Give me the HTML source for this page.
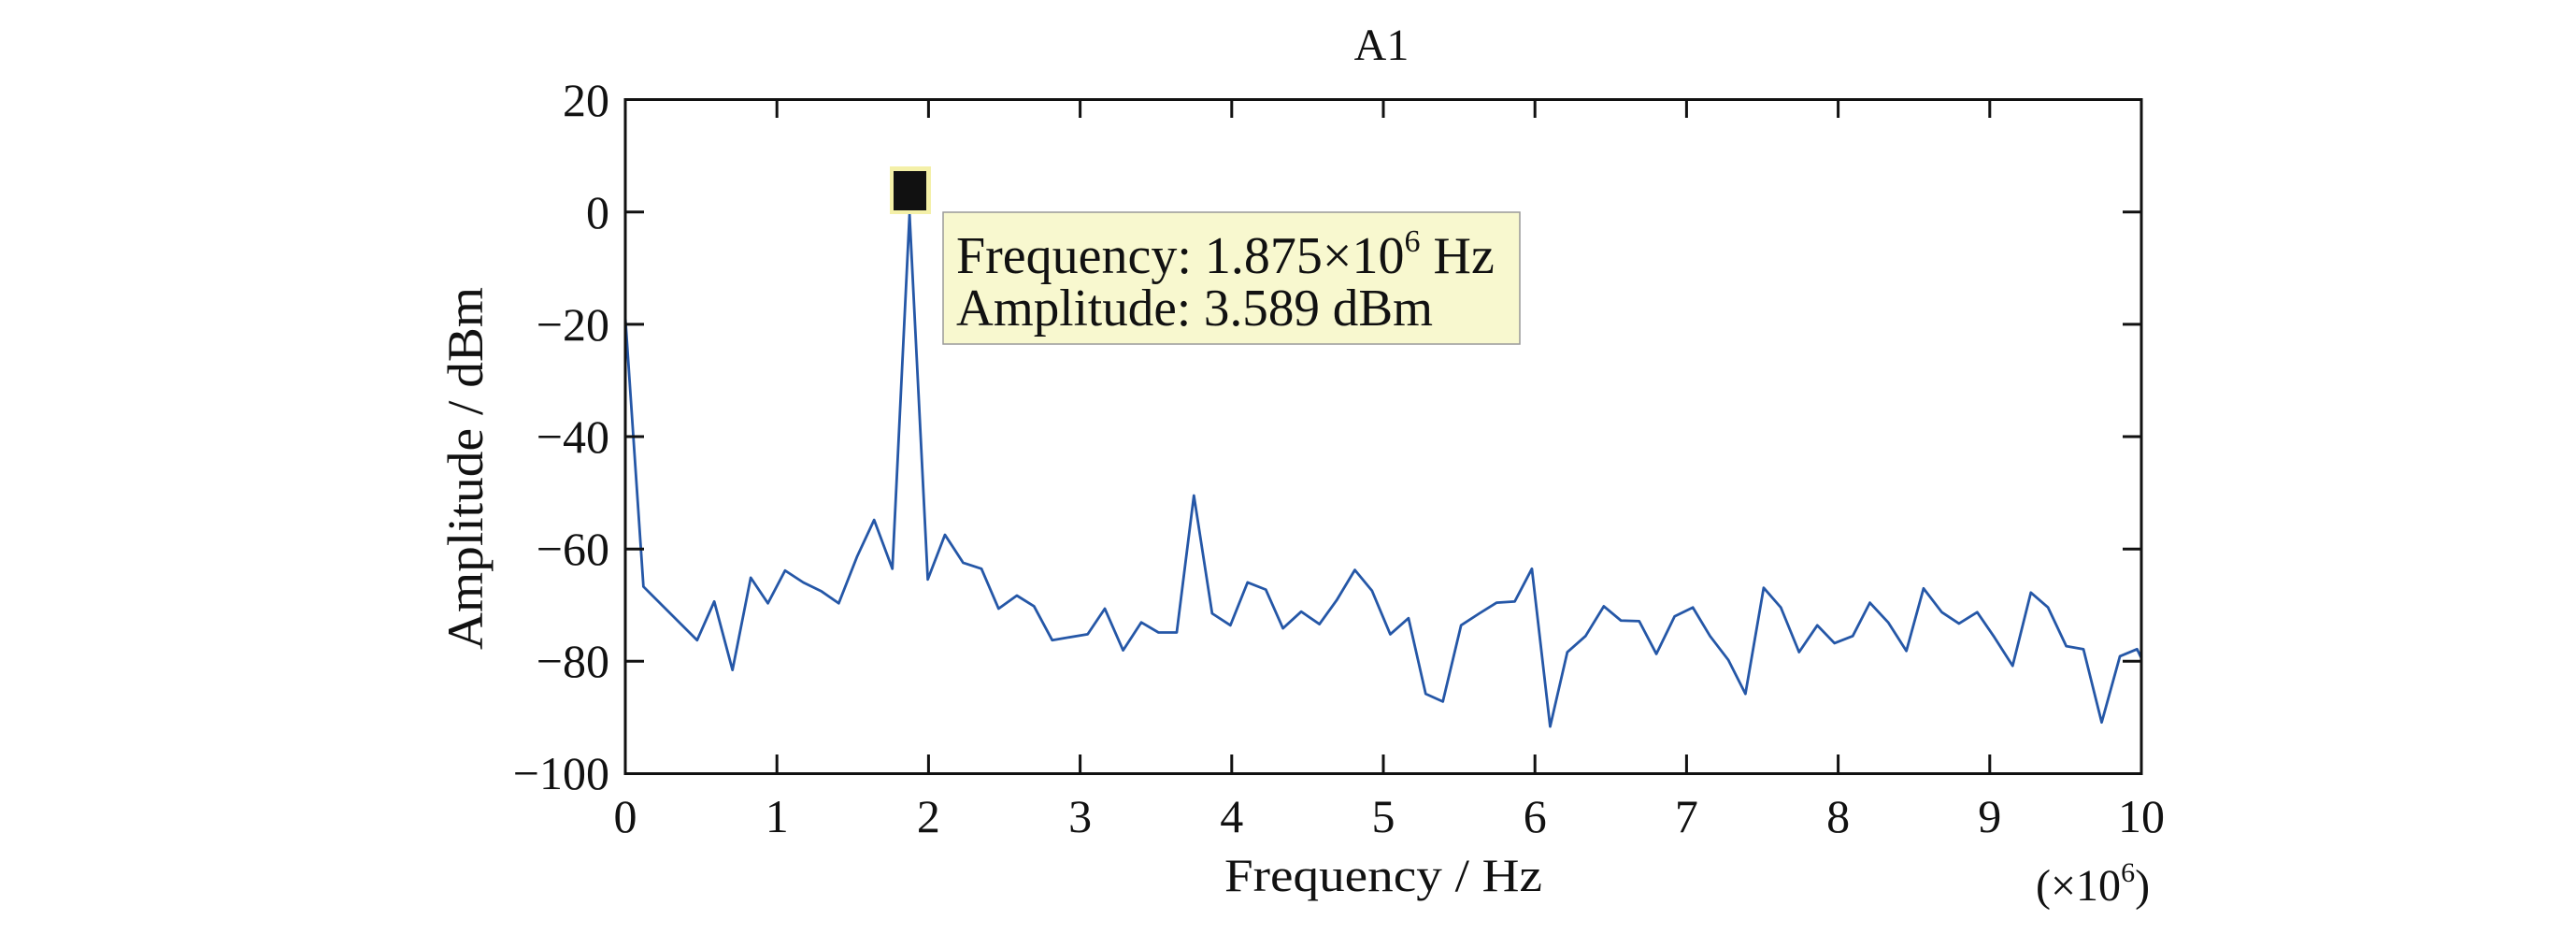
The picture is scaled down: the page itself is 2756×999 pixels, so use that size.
<!DOCTYPE html>
<html><head><meta charset="utf-8"><style>
html,body{margin:0;padding:0;background:#fff;}
svg{display:block;font-family:"Liberation Serif",serif;}
</style></head><body>
<svg width="2756" height="999" viewBox="0 0 2756 999" xmlns="http://www.w3.org/2000/svg">
<rect width="2756" height="999" fill="#fff"/>
<text x="1478" y="64" font-size="48" text-anchor="middle" fill="#111">A1</text>
<g transform="translate(600,0) scale(1.148,0.637)">
<polyline fill="none" stroke="#2557a7" stroke-width="2.8" vector-effect="non-scaling-stroke" stroke-linejoin="round" points="60,530 77,985 127,1075 143,1010 160,1125 177,970 193,1013 209,958 226,978 243,993 259,1013 276,935 292,873 309,955 325,360 342,973 358,898 375,945 392,955 408,1022 425,1000 441,1018 458,1075 474,1070 491,1065 507,1022 524,1092 541,1045 557,1062 574,1062 590,832 607,1030 624,1050 640,978 657,990 673,1055 690,1027 707,1048 723,1008 740,957 756,992 773,1065 790,1038 806,1165 822,1178 839,1050 856,1030 872,1012 889,1010 905,955 922,1220 938,1095 955,1068 972,1018 988,1042 1005,1043 1021,1098 1038,1035 1055,1020 1071,1068 1088,1108 1104,1165 1121,987 1137,1020 1154,1095 1171,1050 1187,1080 1204,1068 1220,1012 1237,1045 1254,1093 1270,988 1287,1028 1303,1047 1320,1028 1336,1070 1353,1118 1370,995 1386,1020 1403,1085 1419,1090 1436,1213 1453,1102 1469,1090 1473,1105"/>
</g>
<rect x="669" y="106.5" width="1622" height="721" fill="none" stroke="#111" stroke-width="3"/>
<g stroke="#111" stroke-width="3">
<path d="M831.2,106v20M993.4,106v20M1155.6,106v20M1317.8,106v20M1480,106v20M1642.2,106v20M1804.4,106v20M1966.6,106v20M2128.8,106v20M831.2,827v-20M993.4,827v-20M1155.6,827v-20M1317.8,827v-20M1480,827v-20M1642.2,827v-20M1804.4,827v-20M1966.6,827v-20M2128.8,827v-20"/>
<path d="M669,226.7h20M669,346.9h20M669,467h20M669,587.2h20M669,707.3h20M2291,226.7h-20M2291,346.9h-20M2291,467h-20M2291,587.2h-20M2291,707.3h-20"/>
</g>
<g font-size="50" fill="#111" text-anchor="end">
<text x="652" y="124">20</text>
<text x="652" y="244">0</text>
<text x="652" y="364">−20</text>
<text x="652" y="484">−40</text>
<text x="652" y="604">−60</text>
<text x="652" y="724">−80</text>
<text x="652" y="844">−100</text>
</g>
<g font-size="50" fill="#111" text-anchor="middle">
<text x="669" y="890">0</text>
<text x="831.2" y="890">1</text>
<text x="993.4" y="890">2</text>
<text x="1155.6" y="890">3</text>
<text x="1317.8" y="890">4</text>
<text x="1480" y="890">5</text>
<text x="1642.2" y="890">6</text>
<text x="1804.4" y="890">7</text>
<text x="1966.6" y="890">8</text>
<text x="2128.8" y="890">9</text>
<text x="2291" y="890">10</text>
</g>
<text x="1310" y="953" font-size="50" fill="#111" textLength="340" lengthAdjust="spacingAndGlyphs">Frequency / Hz</text>
<text x="2178" y="963" font-size="48" fill="#111">(×10<tspan font-size="30" dy="-20">6</tspan><tspan dy="20">)</tspan></text>
<text transform="translate(516,501) rotate(-90)" font-size="54" fill="#111" text-anchor="middle" textLength="388" lengthAdjust="spacingAndGlyphs">Amplitude / dBm</text>
<rect x="952" y="178" width="44" height="51" fill="#f4f0a8"/>
<rect x="956" y="183" width="35" height="42" fill="#111"/>
<rect x="1009" y="227" width="617" height="141" fill="#f8f8cf" stroke="#999" stroke-width="1.5"/>
<text x="1023" y="292" font-size="56" fill="#111">Frequency: 1.875×10<tspan font-size="34" dy="-23">6</tspan><tspan dy="23"> Hz</tspan></text>
<text x="1023" y="348" font-size="56" fill="#111" textLength="510" lengthAdjust="spacingAndGlyphs">Amplitude: 3.589 dBm</text>
</svg>
</body></html>
